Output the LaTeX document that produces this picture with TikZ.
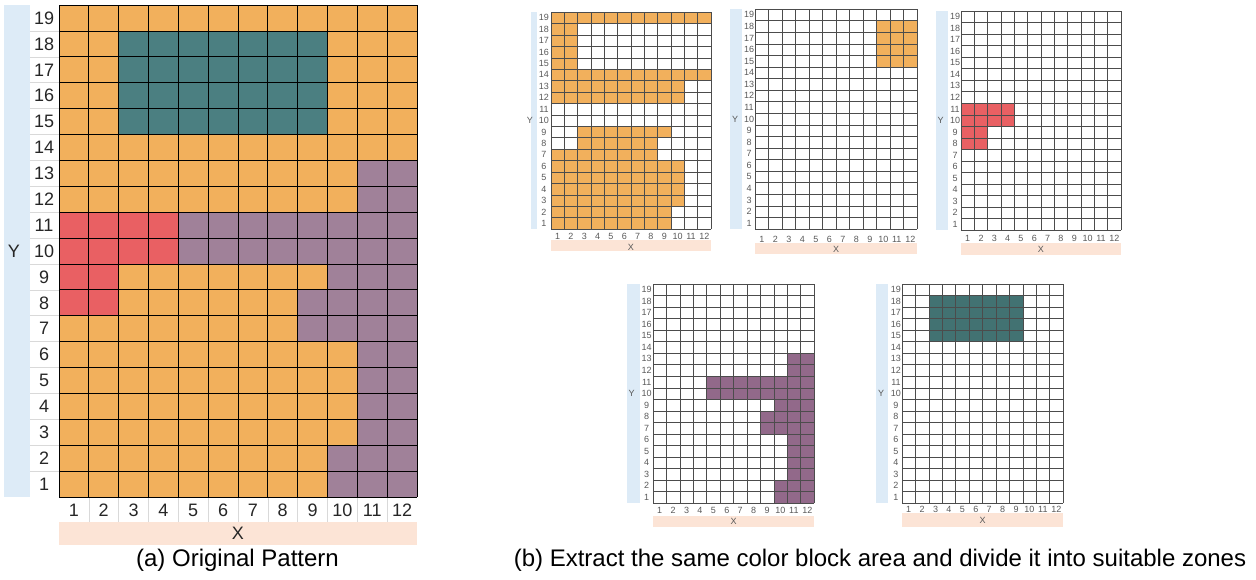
\documentclass[tikz,border=0pt]{standalone}
\usepackage{fontspec}
\setmainfont{Liberation Sans}
\definecolor{cellorange}{HTML}{F2B05C}
\definecolor{cellteal}{HTML}{4B7F81}
\definecolor{cellred}{HTML}{E96063}
\definecolor{cellpurple}{HTML}{A08199}
\definecolor{subpurple}{HTML}{92698A}
\definecolor{subteal}{HTML}{427272}
\definecolor{barblue}{HTML}{DDEBF7}
\definecolor{barpink}{HTML}{FCE4D6}

% axes of one 12x19 grid: blue bar, pink bar, row and column numbers
\newcommand{\gridaxes}[9]{%
  \fill[fill=barblue] (#1,0) rectangle (#2,19);
  \fill[fill=barpink] (0,#6) rectangle (12,#7);
  \foreach \r in {1,...,19} \node (#9y\r) at (#3,\r-0.5) {\r};
  \foreach \c in {1,...,12} \node (#9x\c) at (\c-0.5,#5) {\c};
  \node (#9Y) at (#4,9.5) {Y};
  \node (#9X) at (6,#8) {X};
}

\begin{document}
\begin{tikzpicture}[x=1pt, y=-1pt,
  every node/.style={inner sep=0pt},
  gridline/.style={black, line width=0.8pt, step=1},
  subline/.style={black!70, line width=0.4pt, step=1},
  sepline/.style={gray!30, line width=0.6pt},
  big/.style={every node/.append style={font=\fontsize{18}{18}\selectfont, text=black!85}},
  small/.style={every node/.append style={font=\fontsize{9}{9}\selectfont, text=black!65}},
  caption/.style={font=\fontsize{24}{24}\selectfont}]

  \useasboundingbox (0,0) rectangle (1256,579);

  % (a) original pattern
  \begin{scope}[shift={(59,497)}, x=29.83pt, y=25.89pt, big]
    \fill[cellorange] (0,0) rectangle (12,19);
    \fill[cellteal] (2,14) rectangle (9,18);
    \fill[cellred] (0,9) rectangle (4,11);
    \fill[cellred] (0,7) rectangle (2,9);
    \fill[cellpurple] (10,11) rectangle (12,13);
    \fill[cellpurple] (4,9) rectangle (12,11);
    \fill[cellpurple] (9,8) rectangle (12,9);
    \fill[cellpurple] (8,6) rectangle (12,8);
    \fill[cellpurple] (10,2) rectangle (12,6);
    \fill[cellpurple] (9,0) rectangle (12,2);
    \gridaxes{-1.85}{-0.97}{-0.5}{-1.51}{-0.5}{-0.97}{-1.85}{-1.41}{a}
    \foreach \r in {1,...,18} \draw[sepline] (-0.97,\r) -- (0,\r);
    \foreach \c in {1,...,11} \draw[sepline] (\c,0) -- (\c,-0.97);
    \draw[gridline] (0,0) grid (12,19);
  \end{scope}

  % (b) zone 1: main orange area
  \begin{scope}[shift={(551,229)}, x=13.33pt, y=11.42pt, small]
    \fill[cellorange] (0,18) rectangle (12,19);
    \fill[cellorange] (0,14) rectangle (2,18);
    \fill[cellorange] (0,13) rectangle (12,14);
    \fill[cellorange] (0,11) rectangle (10,13);
    \fill[cellorange] (2,8) rectangle (9,9);
    \fill[cellorange] (2,7) rectangle (8,8);
    \fill[cellorange] (0,6) rectangle (8,7);
    \fill[cellorange] (0,2) rectangle (10,6);
    \fill[cellorange] (0,0) rectangle (9,2);
    \gridaxes{-1.5}{-1.05}{-0.53}{-1.58}{-0.61}{-0.96}{-1.93}{-1.64}{b}
    \draw[subline] (0,0) grid (12,19);
  \end{scope}

  % zone 2: small orange block
  \begin{scope}[shift={(755,229)}, x=13.5pt, y=11.58pt, small]
    \fill[cellorange] (9,14) rectangle (12,18);
    \gridaxes{-1.85}{-0.96}{-0.44}{-1.48}{-0.86}{-1.21}{-2.16}{-1.73}{c}
    \draw[subline] (0,0) grid (12,19);
  \end{scope}

  % zone 3: red
  \begin{scope}[shift={(961,230)}, x=13.33pt, y=11.53pt, small]
    \fill[cellred] (0,9) rectangle (4,11);
    \fill[cellred] (0,7) rectangle (2,9);
    \gridaxes{-1.875}{-0.975}{-0.45}{-1.52}{-0.69}{-1.13}{-2.17}{-1.65}{d}
    \draw[subline] (0,0) grid (12,19);
  \end{scope}

  % zone 4: purple
  \begin{scope}[shift={(653,503)}, x=13.42pt, y=11.53pt, small]
    \fill[subpurple] (10,11) rectangle (12,13);
    \fill[subpurple] (4,9) rectangle (12,11);
    \fill[subpurple] (9,8) rectangle (12,9);
    \fill[subpurple] (8,6) rectangle (12,8);
    \fill[subpurple] (10,2) rectangle (12,6);
    \fill[subpurple] (9,0) rectangle (12,2);
    \gridaxes{-1.94}{-0.97}{-0.47}{-1.59}{-0.61}{-1.13}{-2.08}{-1.62}{e}
    \draw[subline] (0,0) grid (12,19);
  \end{scope}

  % zone 5: teal
  \begin{scope}[shift={(902,503)}, x=13.42pt, y=11.53pt, small]
    \fill[subteal] (2,14) rectangle (9,18);
    \gridaxes{-1.94}{-1.04}{-0.45}{-1.56}{-0.52}{-0.87}{-2.08}{-1.54}{f}
    \draw[subline] (0,0) grid (12,19);
  \end{scope}

  \node[caption] (capa) at (237.5,560) {(a) Original Pattern};
  \node[caption] (capb) at (880,560) {(b) Extract the same color block area and divide it into suitable zones};
\end{tikzpicture}
\end{document}
